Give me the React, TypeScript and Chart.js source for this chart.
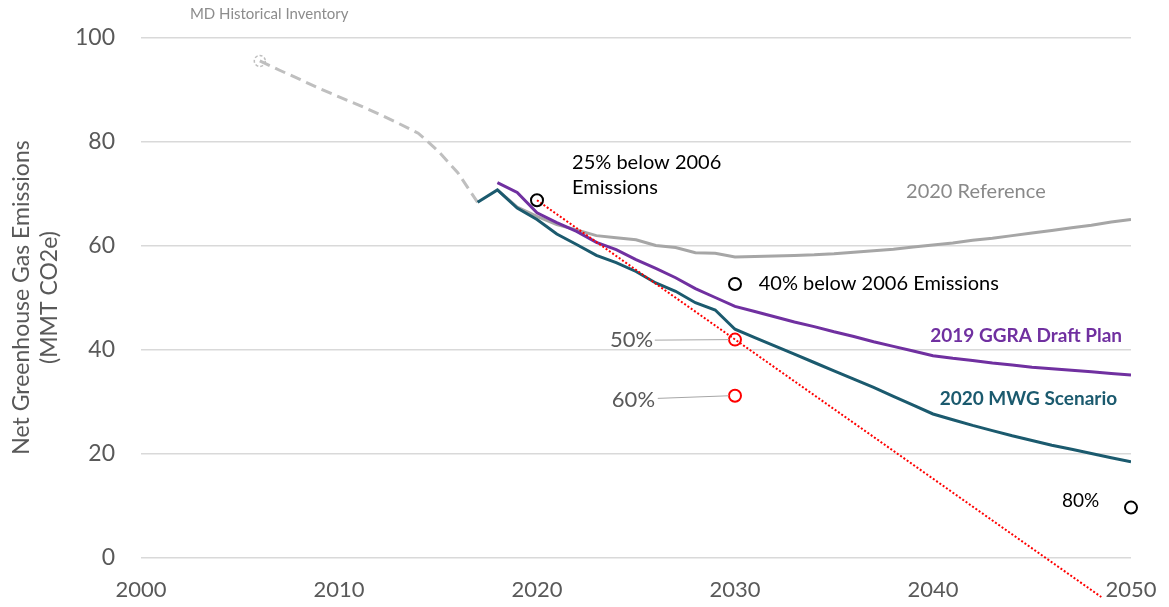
import React, { useEffect, useRef } from "react";
import { Chart, registerables } from "chart.js";

Chart.register(...registerables);

// ---------- data ----------
const histYears = [2006, 2007, 2008, 2009, 2010, 2011, 2012, 2013, 2014, 2015, 2016, 2017];
const histValues = [95.5, 93.7, 92.0, 90.2, 88.6, 87.0, 85.3, 83.5, 81.6, 78.2, 74.0, 68.3];

const mwgYears = [2017, 2018, 2019, 2020, 2021, 2022, 2023, 2024, 2025, 2026, 2027, 2028, 2029, 2030, 2031, 2032, 2033, 2034, 2035, 2036, 2037, 2038, 2039, 2040, 2041, 2042, 2043, 2044, 2045, 2046, 2047, 2048, 2049, 2050];
const mwgValues = [68.3, 70.7, 67.2, 65.0, 62.2, 60.2, 58.1, 56.7, 55.0, 52.8, 51.2, 49.0, 47.6, 43.9, 42.3, 40.7, 39.1, 37.5, 35.9, 34.3, 32.7, 31.0, 29.3, 27.6, 26.5, 25.4, 24.4, 23.4, 22.5, 21.6, 20.8, 20.0, 19.2, 18.4];

const ggraYears = [2018, 2019, 2020, 2021, 2022, 2023, 2024, 2025, 2026, 2027, 2028, 2029, 2030, 2031, 2032, 2033, 2034, 2035, 2036, 2037, 2038, 2039, 2040, 2041, 2042, 2043, 2044, 2045, 2046, 2047, 2048, 2049, 2050];
const ggraValues = [72.1, 70.2, 66.3, 64.4, 62.7, 60.6, 59.2, 57.3, 55.6, 53.8, 51.7, 50.0, 48.3, 47.3, 46.3, 45.3, 44.4, 43.4, 42.5, 41.5, 40.6, 39.7, 38.8, 38.3, 37.9, 37.4, 37.0, 36.6, 36.3, 36.0, 35.7, 35.4, 35.1];

const refYears = [2018, 2019, 2020, 2021, 2022, 2023, 2024, 2025, 2026, 2027, 2028, 2029, 2030, 2031, 2032, 2033, 2034, 2035, 2036, 2037, 2038, 2039, 2040, 2041, 2042, 2043, 2044, 2045, 2046, 2047, 2048, 2049, 2050];
const refValues = [70.7, 67.4, 65.6, 64.0, 63.0, 61.9, 61.5, 61.1, 60.0, 59.6, 58.6, 58.5, 57.8, 57.9, 58.0, 58.1, 58.2, 58.4, 58.7, 59.0, 59.3, 59.7, 60.1, 60.5, 61.0, 61.4, 61.9, 62.4, 62.9, 63.4, 63.9, 64.5, 65.0];

const pathYears = [2020, 2048.5];
const pathValues = [68.7, -7.6];

const targetYears = [2020, 2030, 2050];
const targetValues = [68.7, 52.6, 9.6];

const altTargetYears = [2030, 2030];
const altTargetValues = [41.9, 31.1];

const xTicks = [2000, 2010, 2020, 2030, 2040, 2050];
const yTicks = [0, 20, 40, 60, 80, 100];

const yTitle = ["Net Greenhouse Gas Emissions", "(MMT CO2e)"];
const txtHistorical = "MD Historical Inventory";
const txt25a = "25% below 2006";
const txt25b = "Emissions";
const txtRef = "2020 Reference";
const txt40 = "40% below 2006 Emissions";
const txtGgra = "2019 GGRA Draft Plan";
const txtMwg = "2020 MWG Scenario";
const txt50 = "50%";
const txt60 = "60%";
const txt80 = "80%";

const pts = (xs: number[], ys: number[]) => xs.map((x, i) => ({ x, y: ys[i] }));

const FONT = "Lato";

const annotationPlugin = {
  id: "annotations",
  afterDatasetsDraw(chart: any) {
    const { ctx, scales } = chart;
    const x = scales.x;
    const y = scales.y;
    const px = (v: number) => x.getPixelForValue(v);
    const py = (v: number) => y.getPixelForValue(v);
    ctx.save();

    // dashed circle at first historical point
    ctx.setLineDash([3, 2]);
    ctx.strokeStyle = "#bfbfbf";
    ctx.lineWidth = 1.5;
    ctx.beginPath();
    ctx.arc(px(histYears[0]), py(histValues[0]), 5.5, 0, Math.PI * 2);
    ctx.stroke();
    ctx.setLineDash([]);

    // leader lines
    ctx.strokeStyle = "#a6a6a6";
    ctx.lineWidth = 1;
    ctx.beginPath();
    ctx.moveTo(px(2025.95), py(41.8));
    ctx.lineTo(px(altTargetYears[0]) - 6, py(altTargetValues[0]));
    ctx.moveTo(px(2026.1), py(30.6));
    ctx.lineTo(px(altTargetYears[1]) - 6, py(altTargetValues[1]));
    ctx.stroke();

    const text = (t: string, xv: number, yv: number, font: string, color: string, align: CanvasTextAlign) => {
      ctx.font = font;
      ctx.fillStyle = color;
      ctx.textAlign = align;
      ctx.textBaseline = "middle";
      ctx.fillText(t, px(xv), py(yv));
    };

    text(txtHistorical, 2002.47, 104.5, `15px ${FONT}`, "#8c8c8c", "left");
    text(txt25a, 2021.77, 76.0, `20px ${FONT}`, "#000000", "left");
    text(txt25b, 2021.77, 71.2, `20px ${FONT}`, "#000000", "left");
    text(txtRef, 2038.64, 70.3, `20px ${FONT}`, "#898989", "left");
    text(txt40, 2031.2, 52.6, `20px ${FONT}`, "#000000", "left");
    text(txtGgra, 2049.55, 42.6, `bold 19px ${FONT}`, "#7030a0", "right");
    text(txtMwg, 2049.3, 30.5, `bold 19px ${FONT}`, "#1b5a6e", "right");
    text(txt50, 2025.86, 41.8, `22px ${FONT}`, "#595959", "right");
    text(txt60, 2025.96, 30.3, `22px ${FONT}`, "#595959", "right");
    text(txt80, 2048.4, 10.9, `19px ${FONT}`, "#000000", "right");

    ctx.restore();
  },
};

export default function App() {
  const ref = useRef<HTMLCanvasElement | null>(null);

  useEffect(() => {
    if (!ref.current) return;
    const chart = new Chart(ref.current, {
      type: "line",
      data: {
        datasets: [
          {
            label: "targets",
            data: pts(targetYears, targetValues),
            showLine: false,
            pointRadius: 6,
            pointBorderWidth: 2,
            pointBorderColor: "#000000",
            pointBackgroundColor: "rgba(0,0,0,0)",
            clip: false as any,
            order: 0,
          },
          {
            label: "alt targets",
            data: pts(altTargetYears, altTargetValues),
            showLine: false,
            pointRadius: 6,
            pointBorderWidth: 2,
            pointBorderColor: "#ff0000",
            pointBackgroundColor: "rgba(0,0,0,0)",
            order: 0,
          },
          {
            label: "pathway",
            data: pts(pathYears, pathValues),
            borderColor: "#ff0000",
            borderWidth: 2,
            borderDash: [2, 2],
            pointRadius: 0,
            clip: false as any,
            order: 1,
          },
          {
            label: "2020 MWG Scenario",
            data: pts(mwgYears, mwgValues),
            borderColor: "#1b5a6e",
            borderWidth: 3,
            pointRadius: 0,
            order: 2,
          },
          {
            label: "2019 GGRA Draft Plan",
            data: pts(ggraYears, ggraValues),
            borderColor: "#7030a0",
            borderWidth: 3,
            pointRadius: 0,
            order: 3,
          },
          {
            label: "2020 Reference",
            data: pts(refYears, refValues),
            borderColor: "#a6a6a6",
            borderWidth: 3,
            pointRadius: 0,
            order: 4,
          },
          {
            label: "MD Historical Inventory",
            data: pts(histYears, histValues),
            borderColor: "#bfbfbf",
            borderWidth: 3,
            borderDash: [11, 6],
            pointRadius: 0,
            order: 5,
          },
        ],
      },
      options: {
        responsive: false,
        animation: false,
        events: [],
        layout: { padding: { top: 37.5, right: 38, left: 0, bottom: 0 } },
        plugins: {
          legend: { display: false },
          tooltip: { enabled: false },
          title: { display: false },
        },
        scales: {
          x: {
            type: "linear",
            min: 2000,
            max: 2050,
            afterBuildTicks: (s: any) => {
              s.ticks = xTicks.map((v) => ({ value: v }));
            },
            ticks: {
              color: "#595959",
              font: { family: FONT, size: 22 },
              padding: 19,
              maxRotation: 0,
              autoSkip: false,
              callback: (v: any) => String(v),
            },
            grid: { display: false, drawTicks: false },
            border: { display: false },
            afterFit: (s: any) => {
              s.height = 49.5;
              s.paddingLeft = 0;
              s.paddingRight = 0;
            },
          },
          y: {
            type: "linear",
            min: 0,
            max: 100,
            afterBuildTicks: (s: any) => {
              s.ticks = yTicks.map((v) => ({ value: v }));
            },
            ticks: {
              color: "#595959",
              font: { family: FONT, size: 23 },
              padding: 26,
              callback: (v: any) => String(v),
            },
            grid: { color: "#d9d9d9", lineWidth: 1.5, drawTicks: false },
            border: { display: false },
            title: {
              display: true,
              text: yTitle,
              color: "#595959",
              font: { family: FONT, size: 23, lineHeight: 1.2 },
              padding: { top: 8, bottom: 0 },
            },
            afterFit: (s: any) => {
              s.width = 141;
              s.paddingTop = 0;
              s.paddingBottom = 0;
            },
          },
        },
      },
      plugins: [annotationPlugin],
    });
    return () => chart.destroy();
  }, []);

  return (
    <div style={{ position: "fixed", left: 0, top: 0, width: 1169, height: 607, background: "#ffffff" }}>
      <canvas ref={ref} width={1169} height={607} style={{ width: 1169, height: 607, display: "block" }} />
    </div>
  );
}
